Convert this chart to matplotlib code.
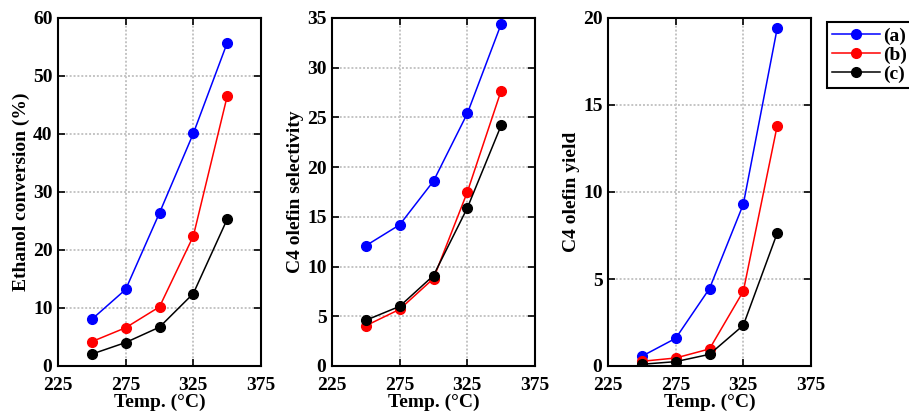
import numpy as np
from matplotlib import pyplot as plt

plt.rcParams['font.family'] = ['Liberation Serif', 'DejaVu Serif']
plt.rcParams['font.weight'] = 'bold'
plt.rcParams['axes.labelweight'] = 'bold'

temp = [250, 275, 300, 325, 350]
labels = ['(a)', '(b)', '(c)']
colors = ['blue', 'red', 'black']

conversion = [[8.05, 13.2, 26.4, 40.1, 55.7],
              [4.2, 6.6, 10.2, 22.4, 46.5],
              [2.05, 4.05, 6.7, 12.5, 25.3]]
selectivity = [[12.1, 14.2, 18.6, 25.4, 34.4],
               [4.05, 5.7, 8.8, 17.5, 27.7],
               [4.6, 6.0, 9.1, 15.9, 24.2]]
yield_ = [[0.56, 1.59, 4.45, 9.3, 19.4],
          [0.27, 0.46, 0.98, 4.3, 13.8],
          [0.1, 0.25, 0.67, 2.34, 7.63]]

panels = [(conversion, 'Ethanol conversion (%)', 60, 10),
          (selectivity, 'C4 olefin selectivity', 35, 5),
          (yield_, 'C4 olefin yield', 20, 5)]

fig = plt.figure(figsize=(9.09, 4.16), dpi=100)
W, H = 909, 416
lefts = [58, 332, 608]
for i, (data, ylab, ymax, ystep) in enumerate(panels):
    ax = fig.add_axes([lefts[i]/W, 1-366/H, 203/W, 348/H])
    for j in range(3):
        ax.plot(temp, data[j], '-o', color=colors[j], lw=1.1, ms=7, label=labels[j], zorder=3)
    ax.set_xlim(225, 375)
    ax.set_ylim(0, ymax)
    ax.set_xticks([225, 275, 325, 375])
    ax.set_yticks(np.arange(0, ymax+1, ystep))
    ax.grid(True, ls=(0, (1, 1)), color='#c4c4c4', lw=1.4)
    ax.tick_params(direction='in', top=True, right=True, length=5, width=1.2, labelsize=14)
    ax.tick_params(axis='x', pad=8)
    ax.tick_params(axis='y', pad=4)
    for s in ax.spines.values():
        s.set_linewidth(1.5)
    ax.set_xlabel('Temp. (°C)', fontsize=14, labelpad=0)
    ax.set_ylabel(ylab, fontsize=14, labelpad=2)
    if i == 2:
        h, l = ax.get_legend_handles_labels()

leg = fig.legend(h, l, loc='upper left', bbox_to_anchor=(827/W, 1-22/H), fontsize=14,
                 frameon=True, fancybox=False, edgecolor='black', framealpha=1,
                 handlelength=2.5, borderpad=0.25, labelspacing=0.08, handletextpad=0.15,
                 borderaxespad=0)
leg.get_frame().set_linewidth(1.5)

plt.savefig('out.png', dpi=100)
